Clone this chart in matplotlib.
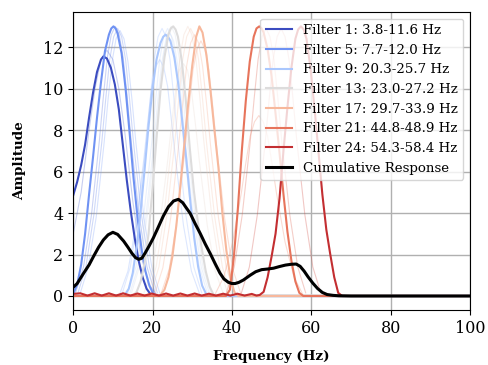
import numpy as np
import matplotlib
matplotlib.use("Agg")
from matplotlib import pyplot as plt

plt.rcParams['font.family'] = ['DejaVu Serif']

# highlighted filters (1-based index, legend band)
HL_IDS = [1, 5, 9, 13, 17, 21, 24]
HL_LABELS = ["Filter 1: 3.8-11.6 Hz", "Filter 5: 7.7-12.0 Hz", "Filter 9: 20.3-25.7 Hz",
             "Filter 13: 23.0-27.2 Hz", "Filter 17: 29.7-33.9 Hz", "Filter 21: 44.8-48.9 Hz",
             "Filter 24: 54.3-58.4 Hz"]

F1_X = [0, 1, 2, 3, 4, 5, 6, 7, 7.6, 8.5, 9.5, 10.5, 11.5, 12.5, 13.5, 14.5, 15.5, 16.5, 17.5, 18.5, 19.5, 20.5, 100]
F1_Y = [4.85, 5.5, 6.3, 7.3, 8.6, 9.8, 10.8, 11.4, 11.55, 11.45, 11.0, 10.2, 9.0, 7.3, 5.6, 4.1, 2.8, 1.7, 0.9, 0.35, 0.08, 0.0, 0.0]

F5_X = [0, 1, 2, 3, 4, 5, 6, 7, 8, 9, 9.6, 10.15, 10.7, 11.2, 12.2, 13.2, 14.2, 15.2, 16.2, 17.2, 18.2, 19.2, 20.2, 21, 100]
F5_Y = [0.1, 0.55, 1.5, 3.0, 4.9, 6.7, 8.6, 10.3, 11.8, 12.6, 12.9, 13.0, 12.9, 12.65, 11.7, 10.0, 7.9, 5.7, 3.8, 2.3, 1.2, 0.5, 0.1, 0.0, 0.0]

F9_X = [0, 13, 14, 15, 16, 17, 18, 19, 20, 21, 22, 22.7, 23.3, 23.9, 24.5, 25.5, 26.5, 27.5, 28.5, 29.5, 30.5, 31.5, 32.5, 33.5, 34.5, 100]
F9_Y = [0, 0.05, 0.35, 1.1, 2.4, 4.1, 6.1, 8.2, 10.0, 11.4, 12.2, 12.5, 12.6, 12.5, 12.3, 11.5, 10.2, 8.4, 6.6, 4.6, 2.8, 1.4, 0.5, 0.1, 0.0, 0.0]

F13_X = [0, 15, 16, 17, 18, 19, 20, 21, 22, 23, 24, 24.6, 25.2, 25.8, 26.4, 27.4, 28.4, 29.4, 30.4, 31.4, 32.4, 33.4, 34.4, 35.4, 100]
F13_Y = [0, 0.0, 0.2, 0.7, 1.6, 3.0, 5.2, 7.6, 9.9, 11.5, 12.6, 12.9, 13.0, 12.85, 12.5, 11.3, 9.4, 7.1, 5.1, 3.6, 2.3, 1.2, 0.45, 0.05, 0.0]

F17_X = [0, 22, 23, 24, 25, 26, 27, 28, 29, 30, 31, 31.8, 32.6, 33.6, 34.6, 35.6, 36.6, 37.6, 38.6, 39.6, 40.6, 41.6, 100]
F17_Y = [0, 0.05, 0.3, 0.9, 1.9, 3.4, 5.3, 7.3, 9.3, 11.1, 12.5, 13.0, 12.7, 11.6, 9.9, 8.0, 6.2, 4.0, 2.2, 0.9, 0.2, 0.0, 0.0]

F21_X = [0, 38.5, 39.5, 40.5, 41.5, 42.5, 43.5, 44.5, 45.5, 46.2, 46.9, 47.5, 48.0, 49.0, 50.0, 51.0, 52.0, 53.0, 54.0, 55.0, 56.0, 57.0, 58.0, 100]
F21_Y = [0, 0.0, 0.3, 1.9, 4.2, 7.0, 9.4, 11.3, 12.5, 12.9, 13.0, 12.9, 12.7, 11.9, 10.6, 8.8, 6.9, 4.9, 3.1, 1.7, 0.7, 0.15, 0.0, 0.0]

# filter 24 has a small stopband ripple below 46 Hz
F24_X = [0, 1.8, 3.6, 5.4, 7.2, 9.0, 10.8, 12.6, 14.4, 16.2, 18.0, 19.8, 21.6, 23.4, 25.2, 27.0,
         28.8, 30.6, 32.4, 34.2, 36.0, 37.8, 39.6, 41.4, 43.2, 45.0, 46.2,
         47, 48, 49, 50, 51, 52, 53, 54, 55, 56, 56.7, 57.4, 58.1,
         58.8, 59.8, 60.8, 61.8, 62.8, 63.8, 64.8, 65.8, 66.8, 67.8, 100]
F24_Y = [0.10, 0.13, 0.02, 0.13, 0.02, 0.13, 0.02, 0.13, 0.02, 0.12, 0.02, 0.12, 0.02, 0.12, 0.02, 0.12,
         0.02, 0.12, 0.02, 0.11, 0.02, 0.11, 0.02, 0.11, 0.02, 0.10, 0.02,
         0.05, 0.2, 0.9, 1.9, 3.0, 4.7, 7.0, 9.1, 11.0, 12.4, 12.85, 13.0, 12.85,
         12.4, 11.0, 9.1, 7.0, 4.9, 3.2, 2.0, 0.9, 0.15, 0.0, 0.0]

HL_X = [F1_X, F5_X, F9_X, F13_X, F17_X, F21_X, F24_X]
HL_Y = [F1_Y, F5_Y, F9_Y, F13_Y, F17_Y, F21_Y, F24_Y]

# the other (faint) filters
FAINT_IDS = [2, 3, 4, 6, 7, 8, 10, 11, 12, 14, 15, 16, 18, 19, 20, 22, 23]
FAINT_X = [
    [0, 2, 4, 5.5, 7, 8.5, 10, 11.5, 13, 15, 17, 19, 21],
    [0, 0.6, 2.6, 4.6, 6.6, 7.6, 8.6, 9.6, 10.6, 11.6, 12.6, 13.6, 14.6, 16.6, 18.6, 20.6],
    [1.2, 3.2, 5.2, 7.2, 8.2, 9.2, 10.2, 11.2, 12.2, 13.2, 14.2, 15.2, 17.2, 19.2, 21.2],
    [1.8, 3.8, 5.8, 7.8, 8.8, 9.8, 10.8, 11.8, 12.8, 13.8, 14.8, 15.8, 17.8, 19.8, 21.8],
    [11.8, 13.8, 15.8, 17.8, 18.8, 19.8, 20.8, 21.8, 22.8, 23.8, 24.8, 25.8, 27.8, 29.8, 31.8],
    [12.4, 14.4, 16.4, 18.4, 19.4, 20.4, 21.4, 22.4, 23.4, 24.4, 25.4, 26.4, 28.4, 30.4, 32.4],
    [13.8, 15.8, 17.8, 19.8, 20.8, 21.8, 22.8, 23.8, 24.8, 25.8, 26.8, 27.8, 29.8, 31.8, 33.8],
    [14.3, 16.3, 18.3, 20.3, 21.3, 22.3, 23.3, 24.3, 25.3, 26.3, 27.3, 28.3, 30.3, 32.3, 34.3],
    [14.7, 16.7, 18.7, 20.7, 21.7, 22.7, 23.7, 24.7, 25.7, 26.7, 27.7, 28.7, 30.7, 32.7, 34.7],
    [17.8, 19.8, 21.8, 23.8, 24.8, 25.8, 26.8, 27.8, 28.8, 29.8, 30.8, 31.8, 33.8, 35.8, 37.8],
    [18.9, 20.9, 22.9, 24.9, 25.9, 26.9, 27.9, 28.9, 29.9, 30.9, 31.9, 32.9, 34.9, 36.9, 38.9],
    [19.6, 21.6, 23.6, 25.6, 26.6, 27.6, 28.6, 29.6, 30.6, 31.6, 32.6, 33.6, 35.6, 37.6, 39.6],
    [20.6, 22.6, 24.6, 26.6, 27.6, 28.6, 29.6, 30.6, 31.6, 32.6, 33.6, 34.6, 36.6, 38.6, 40.6],
    [22.2, 24.2, 26.2, 28.2, 29.2, 30.2, 31.2, 32.2, 33.2, 34.2, 35.2, 36.2, 38.2, 40.2, 42.2],
    [35.8, 38.0, 40.2, 42.4, 43.5, 44.6, 45.7, 46.8, 47.9, 49.0, 50.1, 51.2, 53.4, 55.6, 57.8],
    [38.6, 40.6, 42.6, 44.6, 45.6, 46.6, 47.6, 48.6, 49.6, 50.6, 51.6, 52.6, 54.6, 56.6, 58.6],
    [42.4, 44.4, 46.4, 48.4, 49.4, 50.4, 51.4, 52.4, 53.4, 54.4, 55.4, 56.4, 58.4, 60.4, 62.4],
]
FAINT_Y = [
    [3.0, 5.0, 8.0, 10.0, 11.4, 11.85, 11.4, 10.0, 7.9, 4.6, 2.0, 0.6, 0.05],
    [0.1, 0.15, 1.4, 3.9, 7.5, 9.6, 11.5, 12.6, 13.0, 12.6, 11.5, 9.6, 7.5, 3.9, 1.4, 0.15],
    [0.15, 1.4, 3.9, 7.4, 9.5, 11.4, 12.5, 12.9, 12.5, 11.4, 9.5, 7.4, 3.9, 1.4, 0.15],
    [0.15, 1.4, 3.8, 7.4, 9.5, 11.3, 12.4, 12.8, 12.4, 11.3, 9.5, 7.4, 3.8, 1.4, 0.15],
    [0.13, 1.2, 3.4, 6.6, 8.4, 10.1, 11.05, 11.4, 11.05, 10.1, 8.4, 6.6, 3.4, 1.2, 0.13],
    [0.15, 1.4, 3.9, 7.4, 9.5, 11.4, 12.5, 12.9, 12.5, 11.4, 9.5, 7.4, 3.9, 1.4, 0.15],
    [0.15, 1.4, 3.9, 7.4, 9.5, 11.4, 12.5, 12.9, 12.5, 11.4, 9.5, 7.4, 3.9, 1.4, 0.15],
    [0.15, 1.37, 3.8, 7.3, 9.4, 11.2, 12.3, 12.7, 12.3, 11.2, 9.4, 7.3, 3.8, 1.37, 0.15],
    [0.15, 1.4, 3.9, 7.5, 9.6, 11.5, 12.6, 13.0, 12.6, 11.5, 9.6, 7.5, 3.9, 1.4, 0.15],
    [0.13, 1.2, 3.4, 6.5, 8.3, 9.9, 10.9, 11.2, 10.9, 9.9, 8.3, 6.5, 3.4, 1.2, 0.13],
    [0.15, 1.4, 3.9, 7.5, 9.6, 11.5, 12.6, 13.0, 12.6, 11.5, 9.6, 7.5, 3.9, 1.4, 0.15],
    [0.15, 1.4, 3.9, 7.4, 9.5, 11.4, 12.5, 12.9, 12.5, 11.4, 9.5, 7.4, 3.9, 1.4, 0.15],
    [0.15, 1.36, 3.8, 7.3, 9.3, 11.1, 12.2, 12.6, 12.2, 11.1, 9.3, 7.3, 3.8, 1.36, 0.15],
    [0.14, 1.3, 3.7, 7.1, 9.1, 10.9, 11.9, 12.3, 11.9, 10.9, 9.1, 7.1, 3.7, 1.3, 0.14],
    [0.1, 0.94, 2.6, 5.0, 6.4, 7.7, 8.4, 8.7, 8.4, 7.7, 6.4, 5.0, 2.6, 0.94, 0.1],
    [0.15, 1.4, 3.9, 7.4, 9.5, 11.4, 12.5, 12.9, 12.5, 11.4, 9.5, 7.4, 3.9, 1.4, 0.15],
    [0.15, 1.4, 3.9, 7.4, 9.5, 11.4, 12.5, 12.9, 12.5, 11.4, 9.5, 7.4, 3.9, 1.4, 0.15],
]

CUM_X = [0, 1, 2.6, 4, 5.1, 6.4, 7.6, 8.8, 10.0, 11.2, 12.7, 13.8, 14.8, 15.7, 16.5, 17.3, 18.1, 19.1,
         20.2, 21.4, 22.7, 24.0, 25.3, 26.5, 27.6, 28.5, 29.5, 30.7, 32.0, 33.3, 34.5, 35.8, 37.0,
         38.0, 39.1, 40.0, 40.8, 41.8, 42.9, 44.6, 46.0, 47.5, 49.0, 50.5, 52.0, 53.5, 55.0, 56.2,
         57.2, 58.2, 59.2, 60.4, 61.6, 62.8, 64.0, 65.5, 67.0, 70.0, 100]
CUM_Y = [0.42, 0.6, 1.09, 1.5, 1.9, 2.35, 2.7, 2.95, 3.07, 2.97, 2.65, 2.35, 2.06, 1.85, 1.77, 1.82, 2.06, 2.4,
         2.8, 3.3, 3.85, 4.3, 4.58, 4.66, 4.5, 4.25, 3.98, 3.5, 3.02, 2.5, 2.06, 1.55, 1.1,
         0.82, 0.66, 0.6, 0.6, 0.66, 0.77, 1.0, 1.17, 1.27, 1.3, 1.34, 1.42, 1.49, 1.53, 1.54,
         1.43, 1.2, 0.92, 0.62, 0.36, 0.17, 0.07, 0.03, 0.01, 0.0, 0.0]

N_COLORS = 25
cmap = plt.cm.coolwarm

fig, ax = plt.subplots(figsize=(4.88, 3.65), dpi=100)
plt.subplots_adjust(left=0.15, right=0.963, top=0.967, bottom=0.151)

for fid, xs, ys in zip(FAINT_IDS, FAINT_X, FAINT_Y):
    ax.plot(xs, ys, color=cmap((fid - 1) / (N_COLORS - 1)), lw=0.8, alpha=0.3)

for fid, xs, ys, lab in zip(HL_IDS, HL_X, HL_Y, HL_LABELS):
    ax.plot(xs, ys, color=cmap((fid - 1) / (N_COLORS - 1)), lw=1.5, label=lab)

ax.plot(CUM_X, CUM_Y, color='black', lw=2.2, label='Cumulative Response')

ax.set_xlim(0, 100)
ax.set_ylim(-0.67, 13.69)
ax.set_xticks(np.arange(0, 101, 20))
ax.set_yticks(np.arange(0, 13, 2))
ax.tick_params(labelsize=11.5)
ax.grid(True, color='#b0b0b0', lw=1.0)
ax.set_xlabel('Frequency (Hz)', fontsize=9.7, fontweight='bold', labelpad=9.5)
ax.set_ylabel('Amplitude', fontsize=9.7, fontweight='bold', labelpad=12)
ax.legend(loc='upper right', fontsize=9.6, framealpha=0.8)

fig.savefig('out.png', dpi=100)
